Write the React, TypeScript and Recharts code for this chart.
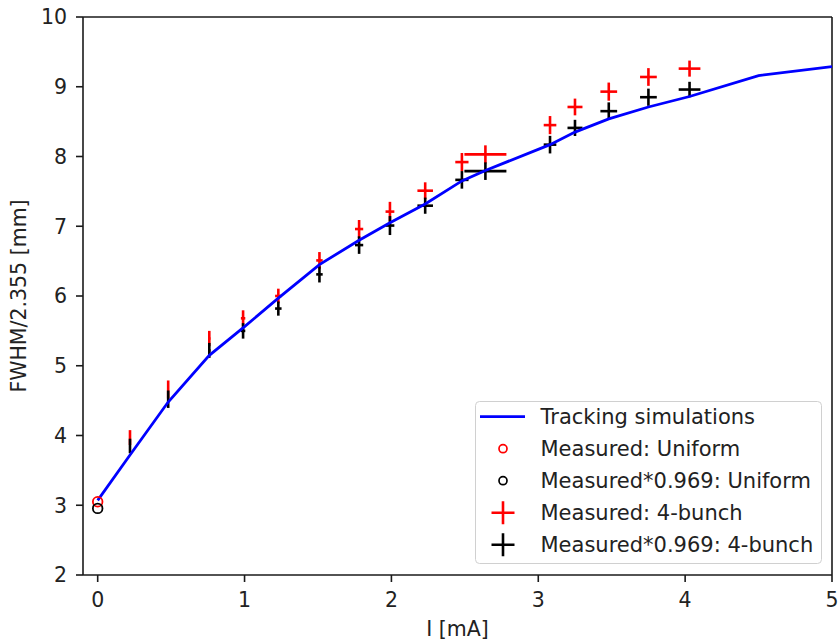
import {
  ComposedChart,
  Line,
  Scatter,
  ErrorBar,
  XAxis,
  YAxis,
  ReferenceLine,
  Legend,
} from "recharts";

// tracking simulation curve
const simX = [0, 0.22, 0.48, 0.76, 1.0, 1.23, 1.51, 1.78, 1.99, 2.23, 2.48, 2.64, 3.08, 3.25, 3.48, 3.75, 4.03, 4.5, 5.0];
const simY = [3.07, 3.72, 4.48, 5.15, 5.56, 5.97, 6.45, 6.8, 7.05, 7.32, 7.65, 7.8, 8.17, 8.35, 8.54, 8.71, 8.86, 9.16, 9.29];

// uniform fill (single point)
const uniX = [0];
const uniY = [3.05];
const uniScaledY = [2.955];

// 4-bunch measurements
const bunchX = [0.22, 0.48, 0.76, 0.99, 1.23, 1.51, 1.78, 1.99, 2.23, 2.48, 2.64, 3.08, 3.25, 3.48, 3.75, 4.03];
const bunchXErr = [0.005, 0.005, 0.008, 0.015, 0.022, 0.022, 0.028, 0.03, 0.053, 0.045, 0.143, 0.043, 0.051, 0.057, 0.057, 0.074];
const bunchY = [3.97, 4.66, 5.39, 5.68, 6.0, 6.51, 6.96, 7.21, 7.51, 7.92, 8.03, 8.45, 8.71, 8.93, 9.14, 9.26];
const bunchYErr = [0.107, 0.129, 0.11, 0.115, 0.105, 0.12, 0.13, 0.14, 0.12, 0.13, 0.13, 0.13, 0.12, 0.13, 0.127, 0.115];
const bunchScaledY = [3.85, 4.52, 5.22, 5.5, 5.82, 6.31, 6.73, 7.01, 7.295, 7.665, 7.79, 8.17, 8.41, 8.65, 8.85, 8.96];
const bunchScaledYErr = [0.104, 0.125, 0.107, 0.111, 0.102, 0.116, 0.126, 0.136, 0.116, 0.126, 0.126, 0.126, 0.116, 0.126, 0.123, 0.111];

const xTicks = [0, 1, 2, 3, 4, 5];
const yTicks = [2, 3, 4, 5, 6, 7, 8, 9, 10];

const legendLabels = [
  "Tracking simulations",
  "Measured: Uniform",
  "Measured*0.969: Uniform",
  "Measured: 4-bunch",
  "Measured*0.969: 4-bunch",
];

const FONT = "DejaVu Sans";
const TXT = "#222";
const AX = "#1a1a1a";

const simData = simX.map((x, i) => ({ x, y: simY[i] }));
const uniData = uniX.map((x, i) => ({ x, y: uniY[i] }));
const uniScaledData = uniX.map((x, i) => ({ x, y: uniScaledY[i] }));
const bunchData = bunchX.map((x, i) => ({ x, y: bunchY[i], ex: bunchXErr[i], ey: bunchYErr[i] }));
const bunchScaledData = bunchX.map((x, i) => ({ x, y: bunchScaledY[i], ex: bunchXErr[i], ey: bunchScaledYErr[i] }));

const ring = (color: string) => (p: any) => (
  <circle cx={p.cx} cy={p.cy} r={4.8} fill="none" stroke={color} strokeWidth={1.8} />
);

function MplLegend() {
  const rowY = (i: number) => 15.7 + i * 32;
  return (
    <svg width={347} height={163} style={{ display: "block" }}>
      <rect x={0.5} y={0.5} width={346} height={162} rx={4} fill="#fff" fillOpacity={0.8} stroke="#d0d0d0" />
      <line x1={5} x2={50} y1={rowY(0)} y2={rowY(0)} stroke="#0000ff" strokeWidth={2.8} />
      <circle cx={28} cy={rowY(1)} r={4} fill="none" stroke="#ff0000" strokeWidth={1.7} />
      <circle cx={28} cy={rowY(2)} r={4} fill="none" stroke="#000" strokeWidth={1.7} />
      <path d={`M16.5 ${rowY(3)}h23M28 ${rowY(3) - 11.5}v23`} stroke="#ff0000" strokeWidth={2.6} />
      <path d={`M16.5 ${rowY(4)}h23M28 ${rowY(4) - 11.5}v23`} stroke="#000" strokeWidth={2.6} />
      {legendLabels.map((t, i) => (
        <text key={t} x={65.5} y={rowY(i) + 7.6} fontSize={21} fontFamily={FONT} fill={TXT}>
          {t}
        </text>
      ))}
    </svg>
  );
}

export default function App() {
  return (
    <div style={{ width: 838, height: 641, background: "#fff" }}>
      <style>{"body{margin:0}"}</style>
      <ComposedChart
        width={838}
        height={641}
        margin={{ top: 17, right: 6, bottom: 0, left: 0 }}
        style={{ fontFamily: FONT }}
      >
        <XAxis
          type="number"
          dataKey="x"
          domain={[-0.1, 5]}
          ticks={xTicks}
          interval={0}
          allowDataOverflow
          height={66}
          tickSize={7}
          tickMargin={10}
          stroke={AX}
          axisLine={{ stroke: AX, strokeWidth: 1.6 }}
          tickLine={{ stroke: AX, strokeWidth: 1.6 }}
          tick={{ fill: TXT, fontSize: 20.5, fontFamily: FONT }}
          label={{
            value: "I [mA]",
            position: "insideBottom",
            offset: 5,
            style: { fill: TXT, fontSize: 20.5, fontFamily: FONT },
          }}
        />
        <YAxis
          type="number"
          dataKey="y"
          domain={[2, 10]}
          ticks={yTicks}
          interval={0}
          allowDataOverflow
          width={83}
          tickSize={7}
          tickMargin={9}
          stroke={AX}
          axisLine={{ stroke: AX, strokeWidth: 1.6 }}
          tickLine={{ stroke: AX, strokeWidth: 1.6 }}
          tick={{ fill: TXT, fontSize: 20.5, fontFamily: FONT }}
          label={{
            value: "FWHM/2.355 [mm]",
            angle: -90,
            position: "insideLeft",
            offset: 19,
            style: { textAnchor: "middle", fill: TXT, fontSize: 20.5, fontFamily: FONT },
          }}
        />
        <ReferenceLine y={10} stroke={AX} strokeWidth={1.6} />
        <ReferenceLine x={5} stroke={AX} strokeWidth={1.6} />

        <Scatter data={uniData} dataKey="y" shape={ring("#ff0000")} isAnimationActive={false} />
        <Scatter data={uniScaledData} dataKey="y" shape={ring("#000")} isAnimationActive={false} />

        <Scatter data={bunchData} dataKey="y" shape={() => <g />} isAnimationActive={false}>
          <ErrorBar dataKey="ey" direction="y" width={0} stroke="#ff0000" strokeWidth={2.6} isAnimationActive={false} />
          <ErrorBar dataKey="ex" direction="x" width={0} stroke="#ff0000" strokeWidth={2.6} isAnimationActive={false} />
        </Scatter>
        <Scatter data={bunchScaledData} dataKey="y" shape={() => <g />} isAnimationActive={false}>
          <ErrorBar dataKey="ey" direction="y" width={0} stroke="#000" strokeWidth={2.6} isAnimationActive={false} />
          <ErrorBar dataKey="ex" direction="x" width={0} stroke="#000" strokeWidth={2.6} isAnimationActive={false} />
        </Scatter>

        <Line
          data={simData}
          dataKey="y"
          type="linear"
          stroke="#0000ff"
          strokeWidth={2.8}
          dot={false}
          activeDot={false}
          isAnimationActive={false}
        />

        <Legend
          layout="vertical"
          align="center"
          verticalAlign="middle"
          content={() => <MplLegend />}
          wrapperStyle={{ position: "absolute", left: 475, top: 401, width: 347, height: 163 }}
        />
      </ComposedChart>
    </div>
  );
}
